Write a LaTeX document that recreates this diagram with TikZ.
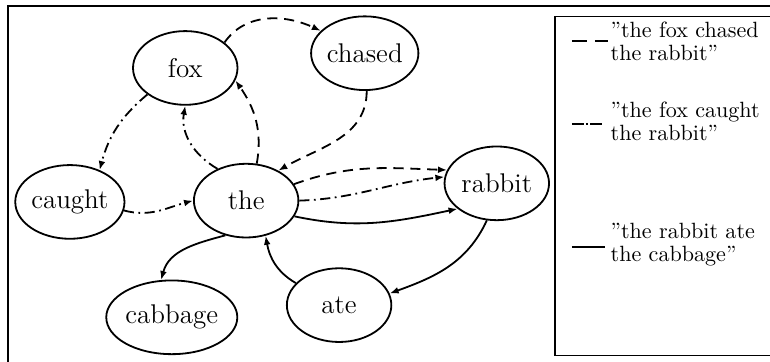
\documentclass[tikz,border=0pt]{standalone}
\usetikzlibrary{shapes.geometric, arrows.meta}

\begin{document}
\begin{tikzpicture}[
wordnode/.style={ellipse, draw=black, thick, minimum width=1.63cm, minimum height=1.15cm, inner sep=0pt, font=\fontsize{12}{14}\selectfont},
chasedline/.style={thick, dash pattern=on 4.5pt off 3pt},
caughtline/.style={thick, dash pattern=on 4.5pt off 2pt on 0.8pt off 2pt},
ateline/.style={thick},
legendtext/.style={anchor=north west, inner sep=0pt, align=left, font=\fontsize{9.8}{10.2}\selectfont},
>={Latex[length=4pt, width=3pt]}
]
\clip (0,0) rectangle (12.012,-5.647);

% frame and legend box
\draw[semithick] (0.125,-0.094) rectangle (13,-6);
\draw[semithick] (8.66,-0.257) rectangle (13,-5.55);

\node[wordnode] at (2.89, -1.06) (fox) {fox};
\node[wordnode] at (5.69, -0.83) (chased) {chased};
\node[wordnode] at (1.09, -3.15) (caught) {caught};
\node[wordnode] at (3.84, -3.13) (the) {the};
\node[wordnode] at (7.75, -2.86) (rabbit) {rabbit};
\node[wordnode] at (2.68, -4.95) (cabbage) {cabbage};
\node[wordnode] at (5.29, -4.76) (ate) {ate};

% the fox chased the rabbit
\draw[->, chasedline] (fox.33) to[out=55, in=155] (chased.153);
\draw[->, chasedline] (chased.-87) to[out=-90, in=30] (the.43);
\draw[->, chasedline] (the.74) to[out=80, in=-55] (fox.-14);
\draw[->, chasedline] (the.19) to[out=20, in=178] (rabbit.165);

% the fox caught the rabbit
\draw[->, caughtline] (fox.215) to[out=220, in=75] (caught.47);
\draw[->, caughtline] (caught.-9) to[out=-15, in=195] (the.west);
\draw[->, caughtline] (the.132) to[out=150, in=-100] (fox.south);
\draw[->, caughtline] (the.east) to[out=2, in=186] (rabbit.173);

% the rabbit ate the cabbage
\draw[->, ateline] (the.-18) to[out=-12, in=192] (rabbit.213);
\draw[->, ateline] (rabbit.-105) to[out=245, in=20] (ate.13);
\draw[->, ateline] (ate.153) to[out=150, in=-80] (the.-61);
\draw[->, ateline] (the.-121) to[out=195, in=75] (cabbage.106);

% legend
\draw[thick, dash pattern=on 6.7pt off 3.5pt] (8.92,-0.64) -- (9.48,-0.64);
\node[legendtext] at (9.52,-0.33) (chasedkey) {''the fox chased\\the rabbit''};
\draw[thick, dash pattern=on 5.3pt off 1pt on 0.8pt off 1pt] (8.92,-1.93) -- (9.40,-1.93);
\node[legendtext] at (9.52,-1.59) (caughtkey) {''the fox caught\\the rabbit''};
\draw[thick] (8.92,-3.85) -- (9.44,-3.85);
\node[legendtext] at (9.52,-3.47) (atekey) {''the rabbit ate\\the cabbage''};
\end{tikzpicture}
\end{document}
